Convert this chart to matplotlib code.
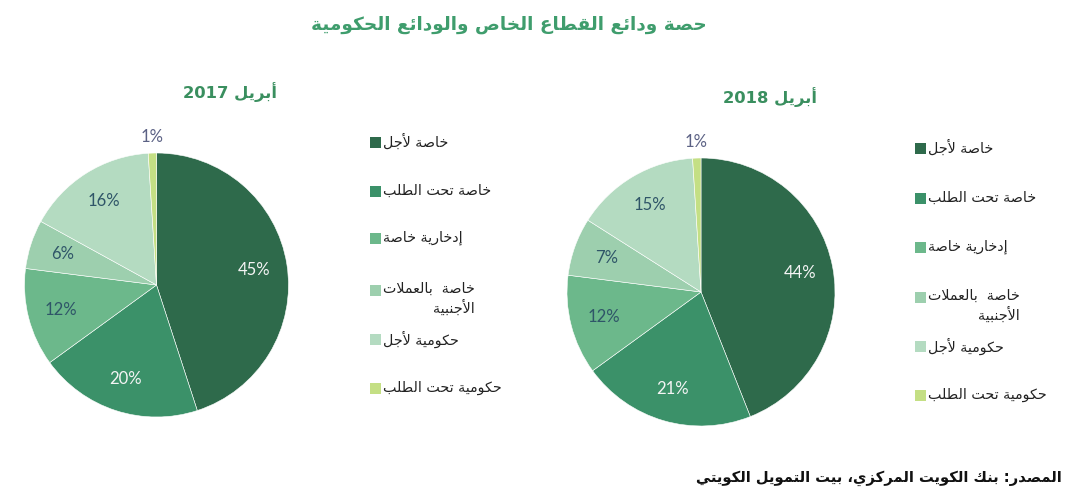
import re
import numpy as np
import matplotlib
matplotlib.use('Agg')
import matplotlib.pyplot as plt
from matplotlib.patches import Rectangle

plt.rcParams['font.family'] = ['DejaVu Sans']

# Data
categories = ['خاصة لأجل', 'خاصة تحت الطلب', 'إدخارية خاصة',
              'خاصة  بالعملات\nالأجنبية', 'حكومية لأجل', 'حكومية تحت الطلب']
values_2017 = [45, 20, 12, 6, 16, 1]
values_2018 = [44, 21, 12, 7, 15, 1]
title_main = 'حصة ودائع القطاع الخاص والودائع الحكومية'
title_2017 = 'أبريل 2017'
title_2018 = 'أبريل 2018'
source_text = 'المصدر: بنك الكويت المركزي، بيت التمويل الكويتي'

colors = ['#2e6a4b', '#3b9169', '#6cb88b', '#9dcfae', '#b4dbc1', '#c4df84']
label_colors = ['#f4f4f4', '#f4f4f4', '#2f5568', '#2f5568', '#2f5568', '#5b6184']

# Simple Arabic shaping (matplotlib does no contextual shaping / bidi)
DUAL = {'ب': 0xFE8F, 'ت': 0xFE95, 'ج': 0xFE9D, 'ح': 0xFEA1, 'خ': 0xFEA5,
        'ص': 0xFEB9, 'ط': 0xFEC1, 'ع': 0xFEC9, 'ق': 0xFED5, 'ك': 0xFED9,
        'ل': 0xFEDD, 'م': 0xFEE1, 'ن': 0xFEE5, 'ي': 0xFEF1, 'ئ': 0xFE89}
RIGHT = {'ا': 0xFE8D, 'أ': 0xFE83, 'إ': 0xFE87, 'ة': 0xFE93, 'د': 0xFEA9,
         'ر': 0xFEAD, 'ز': 0xFEAF, 'و': 0xFEED}
LAM_ALEF = {'ا': 0xFEFB, 'أ': 0xFEF7, 'إ': 0xFEF9}


def shape(s):
    out = []
    n = len(s)
    i = 0
    while i < n:
        c = s[i]
        prev_join = i > 0 and s[i - 1] in DUAL
        if c == 'ل' and i + 1 < n and s[i + 1] in LAM_ALEF:
            out.append(chr(LAM_ALEF[s[i + 1]] + (1 if prev_join else 0)))
            i += 2
            continue
        if c in DUAL:
            next_join = i + 1 < n and (s[i + 1] in DUAL or s[i + 1] in RIGHT)
            base = DUAL[c]
            if prev_join and next_join:
                out.append(chr(base + 3))
            elif prev_join:
                out.append(chr(base + 1))
            elif next_join:
                out.append(chr(base + 2))
            else:
                out.append(chr(base))
        elif c in RIGHT:
            out.append(chr(RIGHT[c] + (1 if prev_join else 0)))
        else:
            out.append(c)
        i += 1
    return ''.join(out)


def ar(s):
    lines = []
    for line in s.split('\n'):
        rev = shape(line)[::-1]
        rev = re.sub(r'[0-9A-Za-z%.]+', lambda m: m.group(0)[::-1], rev)
        lines.append(rev)
    return '\n'.join(lines)


W, H = 1077, 500
fig = plt.figure(figsize=(W / 100, H / 100), dpi=100)


def draw_pie(cx, cy, r, values):
    # cx, cy, r in pixels (cy from top)
    pad = 1.3
    size = 2 * r * pad
    ax = fig.add_axes([(cx - r * pad) / W, (H - cy - r * pad) / H, size / W, size / H])
    wedges, texts, autotexts = ax.pie(
        values, colors=colors, startangle=90, counterclock=False,
        autopct='%d%%', pctdistance=0.75,
        wedgeprops=dict(edgecolor='white', linewidth=0.4),
        textprops=dict(family='Lato', fontsize=12))
    for t, col in zip(autotexts, label_colors):
        t.set_color(col)
    # smallest slice label goes outside, above the pie
    k = int(np.argmin(values))
    w = wedges[k]
    mid = np.deg2rad((w.theta1 + w.theta2) / 2)
    autotexts[k].set_position((1.12 * np.cos(mid), 1.12 * np.sin(mid)))
    ax.set_xlim(-pad, pad)
    ax.set_ylim(-pad, pad)
    ax.set_aspect('equal')
    ax.axis('off')
    return ax


def draw_legend(x, ys, sq=11):
    for i, (lab, y) in enumerate(zip(categories, ys)):
        fig.add_artist(Rectangle(((x) / W, (H - y - sq / 2) / H), sq / W, sq / H,
                                 transform=fig.transFigure, facecolor=colors[i],
                                 edgecolor='none'))
        multi = '\n' in lab
        ty = y - 8 if multi else y
        fig.text((x + sq + 2) / W, (H - ty) / H, ar(lab), ha='left',
                 va='top' if multi else 'center',
                 multialignment='right', fontsize=10.3, color='#222222',
                 linespacing=1.25)


draw_pie(156.5, 285, 132, values_2017)
draw_pie(701, 292, 134, values_2018)

draw_legend(370, [142, 191, 238, 290, 339, 388])
draw_legend(915, [148, 198, 247, 297, 346, 395])

fig.text(509 / W, (H - 25) / H, ar(title_main), ha='center', va='center',
         fontsize=13.3, fontweight='bold', color='#3f9d6d')
fig.text(230 / W, (H - 92) / H, ar(title_2017), ha='center', va='center',
         fontsize=11.8, fontweight='bold', color='#3a8f5f')
fig.text(770 / W, (H - 97) / H, ar(title_2018), ha='center', va='center',
         fontsize=11.8, fontweight='bold', color='#3a8f5f')
fig.text(1062 / W, (H - 478) / H, ar(source_text), ha='right', va='center',
         fontsize=10.6, fontweight='bold', color='#111111')

fig.savefig('out.png', dpi=100)
